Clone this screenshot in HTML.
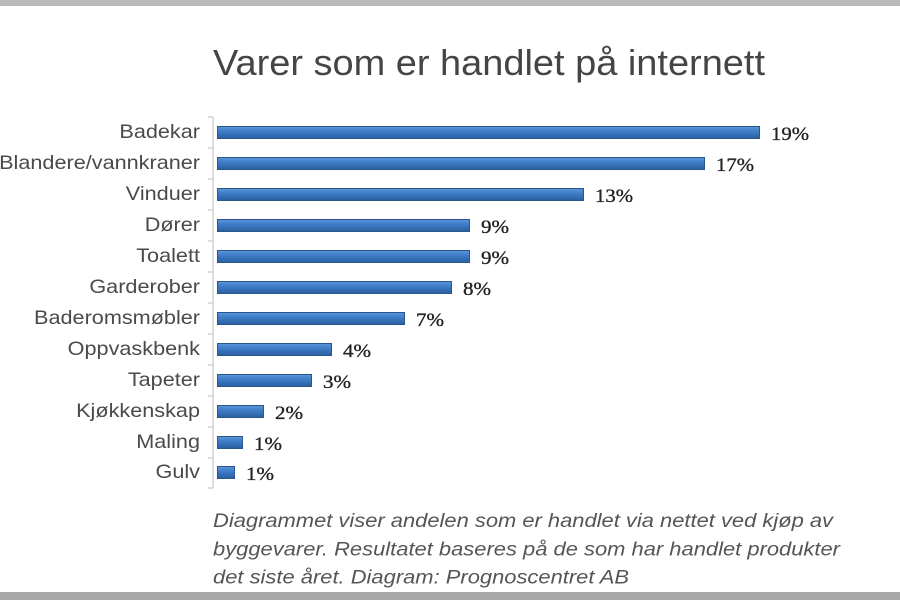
<!DOCTYPE html>
<html>
<head>
<meta charset="utf-8">
<style>
  html,body{margin:0;padding:0;background:#fff;}
  body{width:900px;height:600px;overflow:hidden;}
  svg{display:block;}
</style>
</head>
<body>
<svg width="900" height="600" viewBox="0 0 900 600" xmlns="http://www.w3.org/2000/svg">
  <defs>
    <linearGradient id="bar" x1="0" y1="0" x2="0" y2="1">
      <stop offset="0" stop-color="#5d96d8"/>
      <stop offset="0.45" stop-color="#3b7ac6"/>
      <stop offset="1" stop-color="#2b5f9f"/>
    </linearGradient>
  </defs>
  <rect x="0" y="0" width="900" height="600" fill="#ffffff"/>
  <!-- top and bottom grey bands -->
  <rect x="0" y="0" width="900" height="6" fill="#b9b9b9"/>
  <rect x="0" y="592" width="900" height="8" fill="#a8a8a8"/>

  <!-- title -->
  <text x="213" y="75" font-family="Liberation Sans, Arial, sans-serif" font-size="36" fill="#454545" textLength="552" lengthAdjust="spacingAndGlyphs">Varer som er handlet på internett</text>

  <!-- axis -->
  <g stroke="#c8c8c8" stroke-width="1.2" fill="none">
    <line x1="213" y1="117" x2="213" y2="488"/>
    <line x1="208" y1="117" x2="213" y2="117"/>
    <line x1="208" y1="148" x2="213" y2="148"/>
    <line x1="208" y1="179" x2="213" y2="179"/>
    <line x1="208" y1="210" x2="213" y2="210"/>
    <line x1="208" y1="241" x2="213" y2="241"/>
    <line x1="208" y1="272" x2="213" y2="272"/>
    <line x1="208" y1="303" x2="213" y2="303"/>
    <line x1="208" y1="334" x2="213" y2="334"/>
    <line x1="208" y1="365" x2="213" y2="365"/>
    <line x1="208" y1="396" x2="213" y2="396"/>
    <line x1="208" y1="427" x2="213" y2="427"/>
    <line x1="208" y1="458" x2="213" y2="458"/>
    <line x1="208" y1="488" x2="213" y2="488"/>
  </g>

  <!-- bars -->
  <g fill="url(#bar)" stroke="#2a5690" stroke-width="1">
    <rect x="217.5" y="126.5" width="542" height="12"/>
    <rect x="217.5" y="157.5" width="487" height="12"/>
    <rect x="217.5" y="188.5" width="366" height="12"/>
    <rect x="217.5" y="219.5" width="252" height="12"/>
    <rect x="217.5" y="250.5" width="252" height="12"/>
    <rect x="217.5" y="281.5" width="234" height="12"/>
    <rect x="217.5" y="312.5" width="187" height="12"/>
    <rect x="217.5" y="343.5" width="114" height="12"/>
    <rect x="217.5" y="374.5" width="94" height="12"/>
    <rect x="217.5" y="405.5" width="46" height="12"/>
    <rect x="217.5" y="436.5" width="25" height="12"/>
    <rect x="217.5" y="466.5" width="17" height="12"/>
  </g>

  <!-- category labels -->
  <g font-family="Liberation Sans, Arial, sans-serif" font-size="19.5" fill="#4a4a4a" text-anchor="end" transform="translate(200,0) scale(1.11,1)">
    <text x="0" y="138">Badekar</text>
    <text x="0" y="169">Blandere/vannkraner</text>
    <text x="0" y="200">Vinduer</text>
    <text x="0" y="231">Dører</text>
    <text x="0" y="262">Toalett</text>
    <text x="0" y="293">Garderober</text>
    <text x="0" y="324">Baderomsmøbler</text>
    <text x="0" y="355">Oppvaskbenk</text>
    <text x="0" y="386">Tapeter</text>
    <text x="0" y="417">Kjøkkenskap</text>
    <text x="0" y="448">Maling</text>
    <text x="0" y="478">Gulv</text>
  </g>

  <!-- value labels -->
  <g font-family="Liberation Serif, DejaVu Serif, serif" font-size="19" fill="#222" stroke="#222" stroke-width="0.35">
    <text x="771" y="140" textLength="38" lengthAdjust="spacingAndGlyphs">19%</text>
    <text x="716" y="171" textLength="38" lengthAdjust="spacingAndGlyphs">17%</text>
    <text x="595" y="202" textLength="38" lengthAdjust="spacingAndGlyphs">13%</text>
    <text x="481" y="233" textLength="28" lengthAdjust="spacingAndGlyphs">9%</text>
    <text x="481" y="264" textLength="28" lengthAdjust="spacingAndGlyphs">9%</text>
    <text x="463" y="295" textLength="28" lengthAdjust="spacingAndGlyphs">8%</text>
    <text x="416" y="326" textLength="28" lengthAdjust="spacingAndGlyphs">7%</text>
    <text x="343" y="357" textLength="28" lengthAdjust="spacingAndGlyphs">4%</text>
    <text x="323" y="388" textLength="28" lengthAdjust="spacingAndGlyphs">3%</text>
    <text x="275" y="419" textLength="28" lengthAdjust="spacingAndGlyphs">2%</text>
    <text x="254" y="450" textLength="28" lengthAdjust="spacingAndGlyphs">1%</text>
    <text x="246" y="480" textLength="28" lengthAdjust="spacingAndGlyphs">1%</text>
  </g>

  <!-- caption -->
  <g font-family="Liberation Sans, Arial, sans-serif" font-size="19.5" font-style="italic" fill="#555555">
    <text x="213" y="527" textLength="620" lengthAdjust="spacingAndGlyphs">Diagrammet viser andelen som er handlet via nettet ved kjøp av</text>
    <text x="213" y="555.5" textLength="627" lengthAdjust="spacingAndGlyphs">byggevarer. Resultatet baseres på de som har handlet produkter</text>
    <text x="213" y="583.5" textLength="416" lengthAdjust="spacingAndGlyphs">det siste året. Diagram: Prognoscentret AB</text>
  </g>
</svg>
</body>
</html>
